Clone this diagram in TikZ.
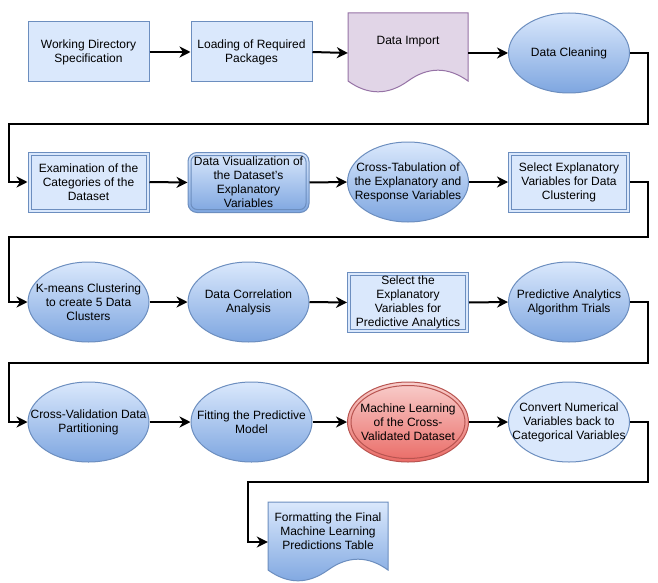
\documentclass[tikz,border=0pt]{standalone}
\usepackage{fontspec}
\setmainfont{Liberation Sans}
\usetikzlibrary{shapes.geometric,arrows.meta}
\definecolor{bfill}{HTML}{DAE8FC}
\definecolor{bdark}{HTML}{7EA6E0}
\definecolor{bline}{HTML}{6C8EBF}
\definecolor{pfill}{HTML}{E1D5E7}
\definecolor{pline}{HTML}{9673A6}
\definecolor{rfill}{HTML}{F8CECC}
\definecolor{rdark}{HTML}{EA6B66}
\definecolor{rline}{HTML}{B85450}
\begin{document}
\begin{tikzpicture}[x=1pt,y=-1pt,
  base/.style={draw=bline, line width=1pt, inner sep=0pt},
  flatbox/.style={base, rectangle, fill=bfill, minimum width=121pt, minimum height=60pt},
  roundbox/.style={base, rectangle, rounded corners=9pt, top color=bfill, bottom color=bdark, minimum width=121pt, minimum height=60pt},
  gradell/.style={base, ellipse, top color=bfill, bottom color=bdark, minimum width=121pt, minimum height=80pt},
  flatell/.style={base, ellipse, fill=bfill, minimum width=121pt, minimum height=80pt},
  redell/.style={base, ellipse, draw=rline, top color=rfill, bottom color=rdark, minimum width=121pt, minimum height=80pt},
  anchorbox/.style={rectangle, inner sep=0pt, minimum width=120pt, minimum height=80pt},
  txt/.style={inner sep=0pt, align=center, font=\fontsize{12}{14}\selectfont, text=black},
  innerline/.style={draw=bline, line width=1pt},
  arr/.style={line width=2pt, -{Stealth[length=11pt,width=11pt,inset=3.5pt]}},
]
\fill[white] (0,0) rectangle (658,583);
\useasboundingbox (0,0) rectangle (658,583);

% ---------- row 1
\node[flatbox] (n1) at (88.5,52) {};
\node[txt] (t1) at (n1) {Working Directory\\Specification};
\node[flatbox] (n2) at (251.5,52) {};
\node[txt] (t2) at (n2) {Loading of Required\\Packages};
\node[anchorbox] (n3) at (408,53) {};
\path[draw=pline, line width=1pt, fill=pfill] (348,13) -- (468,13) -- (468,81)
  .. controls (448,66.6) and (428,66.6) .. (408,81)
  .. controls (388,95.4) and (368,95.4) .. (348,81) -- cycle;
\node[txt] (t3) at (408,42) {Data Import};
\node[gradell] (n4) at (569,53) {};
\node[txt] (t4) at (n4) {Data Cleaning};

% ---------- row 2
\node[flatbox] (n5) at (88.5,182) {};
\draw[innerline] ([shift={(3.5pt,3.5pt)}]n5.south west) rectangle ([shift={(-3.5pt,-3.5pt)}]n5.north east);
\node[txt] (t5) at (n5) {Examination of the\\Categories of the\\Dataset};
\node[roundbox] (n6) at (248.5,182.5) {};
\draw[innerline, rounded corners=6pt] ([shift={(3.5pt,3.5pt)}]n6.south west) rectangle ([shift={(-3.5pt,-3.5pt)}]n6.north east);
\node[txt] (t6) at (n6) {Data Visualization of\\the Dataset's\\Explanatory\\Variables};
\node[gradell] (n7) at (408,182) {};
\node[txt] (t7) at (n7) {Cross-Tabulation of\\the Explanatory and\\Response Variables};
\node[flatbox] (n8) at (569,182) {};
\draw[innerline] ([shift={(3.5pt,3.5pt)}]n8.south west) rectangle ([shift={(-3.5pt,-3.5pt)}]n8.north east);
\node[txt] (t8) at (n8) {Select Explanatory\\Variables for Data\\Clustering};

% ---------- row 3
\node[gradell] (n9) at (88.5,302) {};
\node[txt] (t9) at (n9) {K-means Clustering\\to create 5 Data\\Clusters};
\node[gradell] (n10) at (248.5,302) {};
\node[txt] (t10) at (n10) {Data Correlation\\Analysis};
\node[flatbox] (n11) at (408,302.5) {};
\draw[innerline] ([shift={(3.5pt,3.5pt)}]n11.south west) rectangle ([shift={(-3.5pt,-3.5pt)}]n11.north east);
\node[txt] (t11) at (n11) {Select the\\Explanatory\\Variables for\\Predictive Analytics};
\node[gradell] (n12) at (569,302) {};
\node[txt] (t12) at (n12) {Predictive Analytics\\Algorithm Trials};

% ---------- row 4
\node[gradell] (n13) at (88.5,422) {};
\node[txt] (t13) at (n13) {Cross-Validation Data\\Partitioning};
\node[gradell] (n14) at (251.5,422) {};
\node[txt] (t14) at (n14) {Fitting the Predictive\\Model};
\node[redell] (n15) at (408,422) {};
\draw[draw=rline, line width=1pt] (n15.center) ellipse [x radius=57pt, y radius=36.5pt];
\node[txt] (t15) at (n15) {Machine Learning\\of the Cross-\\Validated Dataset};
\node[flatell] (n16) at (569,422) {};
\node[txt] (t16) at (n16) {Convert Numerical\\Variables back to\\Categorical Variables};

% ---------- row 5
\node[anchorbox] (n17) at (328,542) {};
\path[draw=bline, line width=1pt, top color=bfill, bottom color=bdark] (268,502) -- (388,502) -- (388,570)
  .. controls (368,555.6) and (348,555.6) .. (328,570)
  .. controls (308,584.4) and (288,584.4) .. (268,570) -- cycle;
\node[txt] (t17) at (328,531) {Formatting the Final\\Machine Learning\\Predictions Table};

% ---------- connectors
\draw[arr] (n1.east) -- (n2.west);
\draw[arr] (n2.east) -- (n3.west);
\draw[arr] (n3.east) -- (n4.west);
\coordinate (c1a) at (648,124);
\coordinate (c1b) at (9,124);
\draw[arr] (n4.east) -| (c1a) -- (c1b) |- (n5.west);
\draw[arr] (n5.east) -- (n6.west);
\draw[arr] (n6.east) -- (n7.west);
\draw[arr] (n7.east) -- (n8.west);
\coordinate (c2a) at (648,237);
\coordinate (c2b) at (9,237);
\draw[arr] (n8.east) -| (c2a) -- (c2b) |- (n9.west);
\draw[arr] (n9.east) -- (n10.west);
\draw[arr] (n10.east) -- (n11.west);
\draw[arr] (n11.east) -- (n12.west);
\coordinate (c3a) at (648,363);
\coordinate (c3b) at (9,363);
\draw[arr] (n12.east) -| (c3a) -- (c3b) |- (n13.west);
\draw[arr] (n13.east) -- (n14.west);
\draw[arr] (n14.east) -- (n15.west);
\draw[arr] (n15.east) -- (n16.west);
\coordinate (c4a) at (648,482);
\coordinate (c4b) at (248,482);
\draw[arr] (n16.east) -| (c4a) -- (c4b) |- (n17.west);
\end{tikzpicture}
\end{document}
